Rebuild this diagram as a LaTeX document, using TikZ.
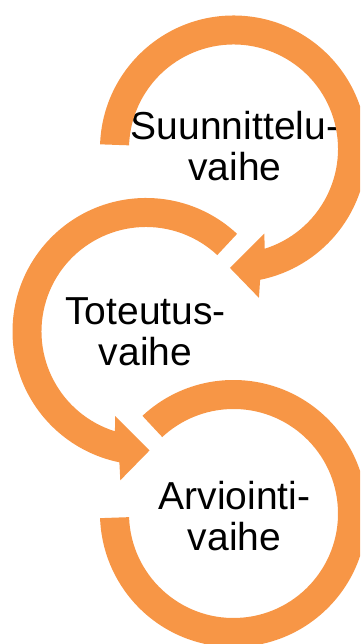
\documentclass[tikz,border=0pt]{standalone}
\usepackage{fontspec}
\setmainfont{Liberation Sans}
\usetikzlibrary{calc}
\definecolor{ringorange}{HTML}{F79646}

\begin{document}
\begin{tikzpicture}[x=1pt, y=1pt, ring/.style={fill=ringorange},
    phase/.style={align=center, font=\fontsize{39}{41.5}\selectfont}]
  \useasboundingbox (0,0) rectangle (360,644);
  \clip (0,0) rectangle (360,644);

  \coordinate (cplan) at (233.5,495);
  \coordinate (cimpl) at (146,312.5);
  \coordinate (ceval) at (233.5,130.5);

  \node[phase] (plan) at (235,497.9) {Suunnittelu-\\vaihe};
  \node[phase] (impl) at (145.5,312.2) {Toteutus-\\vaihe};
  \node[phase] (eval) at (234.5,127.9) {Arviointi-\\vaihe};

  \fill[ring] ($(cplan)+(178:133.5)$) arc[start angle=178, end angle=-78.5, radius=133.5]
    -- ($(cplan)+(-80.3:151)$) -- ($(cplan)+(-91.7:119)$) -- ($(cplan)+(-69.9:90)$)
    -- ($(cplan)+(-72.7:104.5)$) arc[start angle=-72.7, end angle=178, radius=104.5] -- cycle;
  \fill[ring] ($(cimpl)+(47:133.5)$) arc[start angle=47, end angle=258.5, radius=133.5]
    -- ($(cimpl)+(260.2:151)$) -- ($(cimpl)+(271.7:119)$) -- ($(cimpl)+(250:90)$)
    -- ($(cimpl)+(252.7:104.5)$) arc[start angle=252.7, end angle=47, radius=104.5] -- cycle;
  \fill[ring] ($(ceval)+(133:133.5)$) arc[start angle=133, end angle=-178, radius=133.5]
    -- ($(ceval)+(-178:104.5)$) arc[start angle=-178, end angle=133, radius=104.5] -- cycle;
\end{tikzpicture}
\end{document}
